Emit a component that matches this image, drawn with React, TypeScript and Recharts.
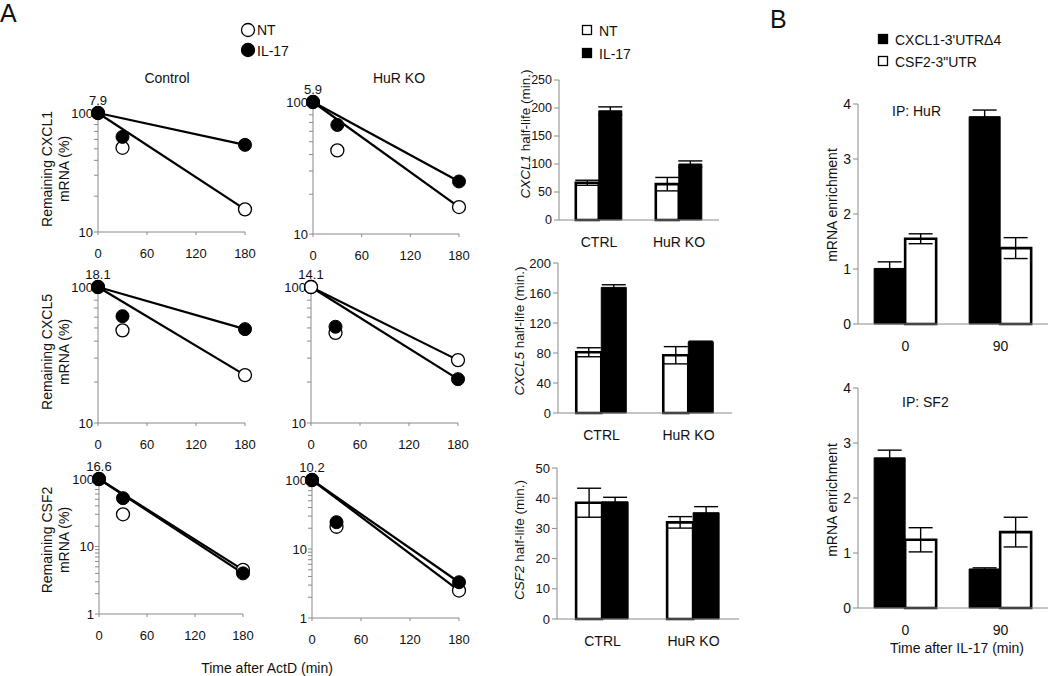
import React from "react";
import { Bar, BarChart, ComposedChart, ErrorBar, Line, ReferenceDot, Scatter, XAxis, YAxis } from "recharts";

const FONT = '"Liberation Sans", Arial, Helvetica, sans-serif';
const AXIS = "#8a8a8a";
const INK = "#111";

// remaining mRNA (%) after ActD, sampled at 0, 30 and 180 min
const timePoints = [0, 30, 180];
const fitTimes = [0, 180];
const timeTicks = [0, 60, 120, 180];
const logTicks10 = [10, 20, 30, 40, 50, 60, 70, 80, 90, 100];
const logTicks1 = [1, 2, 3, 4, 5, 6, 7, 8, 9, 10, 20, 30, 40, 50, 60, 70, 80, 90, 100];

const cxcl1CtrlNT = [100, 51, 15.5];
const cxcl1CtrlIL17 = [100, 63, 54];
const cxcl1KoNT = [100, 43, 16];
const cxcl1KoIL17 = [100, 67, 25];
const cxcl5CtrlNT = [100, 48, 22.5];
const cxcl5CtrlIL17 = [100, 61, 49];
const cxcl5KoNT = [100, 46, 29];
const cxcl5KoIL17 = [100, 51, 21];
const csf2CtrlNT = [100, 30, 4.5];
const csf2CtrlIL17 = [100, 52, 4.0];
const csf2KoNT = [100, 21, 2.5];
const csf2KoIL17 = [100, 24.5, 3.3];

const halfLifeNotes = ["7.9", "5.9", "18.1", "14.1", "16.6", "10.2"];

// half-life bars
const groups = ["CTRL", "HuR KO"];
const cxcl1HalfNT = [66.5, 64];
const cxcl1HalfNTErr = [4.5, 12];
const cxcl1HalfIL17 = [195, 100];
const cxcl1HalfIL17Err = [7, 5.5];
const cxcl5HalfNT = [81, 77];
const cxcl5HalfNTErr = [6, 11.5];
const cxcl5HalfIL17 = [167.5, 95];
const cxcl5HalfIL17Err = [3.5, 0.8];
const csf2HalfNT = [38.5, 32];
const csf2HalfNTErr = [4.8, 1.9];
const csf2HalfIL17 = [38.8, 35.2];
const csf2HalfIL17Err = [1.5, 2];
const ticks250 = [0, 50, 100, 150, 200, 250];
const ticks200 = [0, 40, 80, 120, 160, 200];
const ticks50 = [0, 10, 20, 30, 40, 50];

// RNA-IP enrichment
const ipTimes = ["0", "90"];
const hurCxcl1 = [1.01, 3.77];
const hurCxcl1Err = [0.12, 0.12];
const hurCsf2 = [1.55, 1.38];
const hurCsf2Err = [0.09, 0.19];
const sf2Cxcl1 = [2.73, 0.71];
const sf2Cxcl1Err = [0.14, 0.02];
const sf2Csf2 = [1.24, 1.38];
const sf2Csf2Err = [0.22, 0.27];
const enrichTicks = [0, 1, 2, 3, 4];

const openDot = (p: any) => <circle cx={p.cx} cy={p.cy} r={6.5} fill="#fff" stroke="#000" strokeWidth={1.3} />;
const fullDot = (p: any) => <circle cx={p.cx} cy={p.cy} r={6.5} fill="#000" stroke="#000" strokeWidth={1} />;

function DecayPlot({ x0, x1, yTop, yBot, minY, ticks, nt, il17, note, ntFront }: any) {
  const ml = 50, mt = 30, mr = 14, xh = 36;
  const ntData = timePoints.map((t, i) => ({ t, v: nt[i] }));
  const ilData = timePoints.map((t, i) => ({ t, v: il17[i] }));
  const ntFit = fitTimes.map((t) => ({ t, v: nt[timePoints.indexOf(t)] }));
  const ilFit = fitTimes.map((t) => ({ t, v: il17[timePoints.indexOf(t)] }));
  return (
    <div style={{ position: "absolute", left: x0 - ml, top: yTop - mt }}>
      <ComposedChart width={x1 - x0 + ml + mr} height={yBot - yTop + mt + xh} margin={{ top: mt, right: mr, bottom: 0, left: 0 }}>
        <XAxis dataKey="t" type="number" domain={[0, 180]} ticks={timeTicks} interval={0} height={xh}
          stroke={AXIS} tick={{ fill: INK, fontSize: 13 }} tickSize={3} tickMargin={14} />
        <YAxis type="number" scale="log" domain={[minY, 100]} ticks={ticks} interval={0} width={ml}
          tickFormatter={(v: number) => ([1, 10, 100].includes(v) ? String(v) : "")}
          stroke={AXIS} tick={{ fill: INK, fontSize: 13 }} tickSize={4} tickMargin={1} />
        <Line data={ntFit} dataKey="v" stroke="#000" strokeWidth={2.2} dot={false} isAnimationActive={false} />
        <Line data={ilFit} dataKey="v" stroke="#000" strokeWidth={2.2} dot={false} isAnimationActive={false} />
        <Scatter data={ntData} dataKey="v" shape={openDot} isAnimationActive={false} />
        <Scatter data={ilData} dataKey="v" shape={fullDot} isAnimationActive={false} />
        {ntFront && <Scatter data={ntData.slice(0, 1)} dataKey="v" shape={openDot} isAnimationActive={false} />}
        <ReferenceDot x={0} y={100} r={0} fill="none" stroke="none"
          label={{ value: note, position: "top", offset: 8, fontSize: 13, fill: INK }} />
      </ComposedChart>
    </div>
  );
}

function GroupBars({ left, right, top, bottom, cats, a, aErr, b, bErr, aWhite, max, ticks, gap, tickFs }: any) {
  const ml = 46, mt = 10, mr = 4, xh = 36;
  const data = cats.map((g: string, i: number) => ({ g, a: a[i], aErr: aErr[i], b: b[i], bErr: bErr[i] }));
  const white = { fill: "#fff", stroke: "#000", strokeWidth: 2.6 };
  const black = { fill: "#000", stroke: "#000", strokeWidth: 1 };
  return (
    <div style={{ position: "absolute", left: left - ml, top: top - mt }}>
      <BarChart width={right - left + ml + mr} height={bottom - top + mt + xh} data={data}
        margin={{ top: mt, right: mr, bottom: 0, left: 0 }} barCategoryGap={gap} barGap={0}>
        <XAxis dataKey="g" height={xh} stroke={AXIS} tickLine={false} tick={{ fill: INK, fontSize: 14 }} tickSize={6} tickMargin={11} />
        <YAxis type="number" domain={[0, max]} ticks={ticks} interval={0} width={ml} stroke={AXIS}
          tick={{ fill: INK, fontSize: tickFs }} tickSize={5} tickMargin={2} />
        <Bar dataKey="a" {...(aWhite ? white : black)} isAnimationActive={false}>
          <ErrorBar dataKey="aErr" width={12} stroke="#000" strokeWidth={1.4} direction="y" />
        </Bar>
        <Bar dataKey="b" {...(aWhite ? black : white)} isAnimationActive={false}>
          <ErrorBar dataKey="bErr" width={12} stroke="#000" strokeWidth={1.4} direction="y" />
        </Bar>
      </BarChart>
    </div>
  );
}

function Txt({ x, y, children, size = 14, anchor = "left", style }: any) {
  const tx = anchor === "center" ? "-50%" : "0";
  return (
    <div style={{ position: "absolute", left: x, top: y, transform: `translate(${tx},-50%)`, fontSize: size, whiteSpace: "nowrap", color: INK, lineHeight: 1, ...style }}>
      {children}
    </div>
  );
}

function VLabel({ x, y, children, size = 14, lh = 17 }: any) {
  return (
    <div style={{ position: "absolute", left: x, top: y, transform: "translate(-50%,-50%) rotate(-90deg)", fontSize: size, whiteSpace: "nowrap", textAlign: "center", lineHeight: `${lh}px`, color: INK }}>
      {children}
    </div>
  );
}

function Swatch({ x, y, filled, round }: any) {
  return (
    <svg style={{ position: "absolute", left: x - 8, top: y - 8 }} width={16} height={16}>
      {round
        ? <circle cx={8} cy={8} r={6.5} fill={filled ? "#000" : "#fff"} stroke="#000" strokeWidth={1.3} />
        : <rect x={3.5} y={3.5} width={9} height={9} fill={filled ? "#000" : "#fff"} stroke="#000" strokeWidth={1.3} />}
    </svg>
  );
}

export default function App() {
  return (
    <div style={{ position: "absolute", left: 0, top: 0, width: 1050, height: 676, background: "#fff", fontFamily: FONT, overflow: "hidden" }}>
      <Txt x={0} y={13} size={25}>A</Txt>
      <Txt x={770} y={19} size={25}>B</Txt>

      <Swatch x={248} y={30} round />
      <Txt x={257} y={30}>NT</Txt>
      <Swatch x={248} y={50} round filled />
      <Txt x={257} y={51}>IL-17</Txt>
      <Txt x={167} y={78} anchor="center">Control</Txt>
      <Txt x={399} y={78} anchor="center">HuR KO</Txt>

      <VLabel x={56} y={169}>Remaining CXCL1<br />mRNA (%)</VLabel>
      <VLabel x={56} y={352}>Remaining CXCL5<br />mRNA (%)</VLabel>
      <VLabel x={56} y={540}>Remaining CSF2<br />mRNA (%)</VLabel>

      <DecayPlot x0={98} x1={245} yTop={113} yBot={232} minY={10} ticks={logTicks10} nt={cxcl1CtrlNT} il17={cxcl1CtrlIL17} note={halfLifeNotes[0]} />
      <DecayPlot x0={313} x1={459} yTop={102} yBot={234} minY={10} ticks={logTicks10} nt={cxcl1KoNT} il17={cxcl1KoIL17} note={halfLifeNotes[1]} />
      <DecayPlot x0={98} x1={245} yTop={287} yBot={423} minY={10} ticks={logTicks10} nt={cxcl5CtrlNT} il17={cxcl5CtrlIL17} note={halfLifeNotes[2]} />
      <DecayPlot x0={311} x1={458} yTop={287} yBot={423} minY={10} ticks={logTicks10} nt={cxcl5KoNT} il17={cxcl5KoIL17} note={halfLifeNotes[3]} ntFront />
      <DecayPlot x0={99} x1={243} yTop={479} yBot={614} minY={1} ticks={logTicks1} nt={csf2CtrlNT} il17={csf2CtrlIL17} note={halfLifeNotes[4]} />
      <DecayPlot x0={312} x1={459} yTop={480} yBot={618} minY={1} ticks={logTicks1} nt={csf2KoNT} il17={csf2KoIL17} note={halfLifeNotes[5]} />

      <Txt x={267} y={668} anchor="center">Time after ActD (min)</Txt>

      <Swatch x={587} y={30} />
      <Txt x={599} y={31}>NT</Txt>
      <Swatch x={587} y={53} filled />
      <Txt x={599} y={54}>IL-17</Txt>

      <VLabel x={526} y={134} size={13.5} lh={14}><i>CXCL1</i> half-life (min.)</VLabel>
      <VLabel x={520} y={331} size={13.5} lh={14}><i>CXCL5</i> half-life (min.)</VLabel>
      <VLabel x={520} y={540} size={13.5} lh={14}><i>CSF2</i> half-life (min.)</VLabel>

      <GroupBars left={559} right={719} top={80} bottom={220} cats={groups} a={cxcl1HalfNT} aErr={cxcl1HalfNTErr} b={cxcl1HalfIL17} bErr={cxcl1HalfIL17Err} aWhite max={250} ticks={ticks250} gap="21%" tickFs={12.5} />
      <GroupBars left={558} right={732} top={263} bottom={413} cats={groups} a={cxcl5HalfNT} aErr={cxcl5HalfNTErr} b={cxcl5HalfIL17} bErr={cxcl5HalfIL17Err} aWhite max={200} ticks={ticks200} gap="21%" tickFs={13} />
      <GroupBars left={557} right={739} top={468} bottom={619} cats={groups} a={csf2HalfNT} aErr={csf2HalfNTErr} b={csf2HalfIL17} bErr={csf2HalfIL17Err} aWhite max={50} ticks={ticks50} gap="21%" tickFs={13} />

      <Swatch x={883} y={39} filled />
      <Txt x={895} y={40}>CXCL1-3'UTRΔ4</Txt>
      <Swatch x={883} y={61} />
      <Txt x={895} y={62}>CSF2-3"UTR</Txt>

      <VLabel x={832} y={205} lh={14}>mRNA enrichment</VLabel>
      <VLabel x={832} y={500} lh={14}>mRNA enrichment</VLabel>
      <Txt x={892} y={111}>IP: HuR</Txt>
      <Txt x={902} y={402}>IP: SF2</Txt>

      <GroupBars left={858} right={1048} top={104} bottom={324} cats={ipTimes} a={hurCxcl1} aErr={hurCxcl1Err} b={hurCsf2} bErr={hurCsf2Err} max={4} ticks={enrichTicks} gap="17%" tickFs={14} />
      <GroupBars left={858} right={1048} top={388} bottom={608} cats={ipTimes} a={sf2Cxcl1} aErr={sf2Cxcl1Err} b={sf2Csf2} bErr={sf2Csf2Err} max={4} ticks={enrichTicks} gap="17%" tickFs={14} />

      <Txt x={957} y={648} anchor="center">Time after IL-17 (min)</Txt>
    </div>
  );
}
